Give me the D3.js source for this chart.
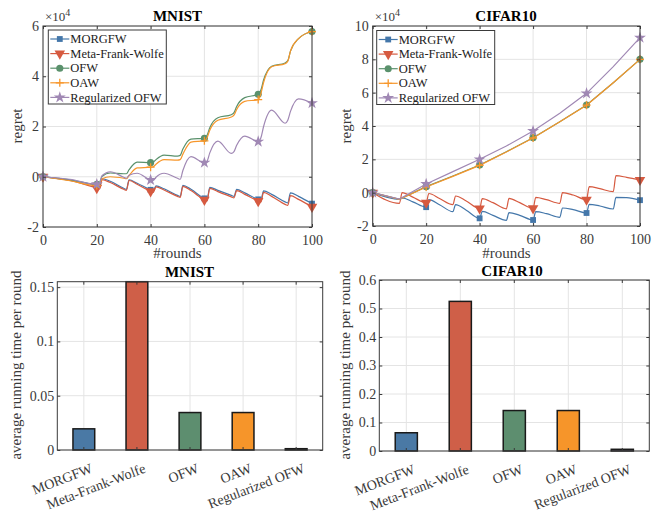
<!DOCTYPE html>
<html lang="en">
<head>
<meta charset="UTF-8">
<title>Regret and running time</title>
<script src="https://d3js.org/d3.v7.min.js"></script>
<style>
  body { margin: 0; background: #fff; }
  svg, svg text, .tick text { font-family: "Liberation Serif", "Times New Roman", serif; }
  .domain { display: none; }
</style>
</head>
<body>
<div id="chart"></div>
<script>
// ---- data (regret values are in units of 1e4) ----
const algorithms = ["MORGFW", "Meta-Frank-Wolfe", "OFW", "OAW", "Regularized OFW"];

// MNIST regret, sampled at these rounds
const mnistRounds = [0, 10, 20, 21, 22, 25, 30, 31, 32, 35, 40, 41, 42, 45, 50, 51, 52, 55, 60, 61, 62, 65, 70, 71, 72, 75, 80, 81, 82, 85, 90, 91, 92, 95, 100];
const mnistMORGFW = [0, -0.12, -0.35, -0.38, -0.08, -0.18, -0.46, -0.5, -0.12, -0.26, -0.52, -0.56, -0.36, -0.48, -0.74, -0.78, -0.34, -0.5, -0.86, -0.9, -0.42, -0.54, -0.74, -0.78, -0.5, -0.64, -0.9, -0.93, -0.56, -0.7, -1.0, -1.04, -0.64, -0.78, -1.07];
const mnistMetaFW = [0, -0.15, -0.45, -0.48, -0.12, -0.23, -0.5, -0.54, -0.15, -0.3, -0.58, -0.62, -0.4, -0.53, -0.78, -0.82, -0.38, -0.55, -0.92, -0.96, -0.46, -0.59, -0.8, -0.84, -0.55, -0.7, -0.97, -1.01, -0.62, -0.78, -1.1, -1.14, -0.75, -0.9, -1.2];
const mnistOFW = [0, -0.14, -0.3, -0.24, 0.02, 0.15, 0.12, 0.12, 0.28, 0.58, 0.56, 0.58, 0.68, 0.86, 0.82, 0.85, 1.1, 1.5, 1.53, 1.65, 1.95, 2.35, 2.47, 2.55, 2.8, 3.15, 3.28, 3.45, 3.85, 4.4, 4.53, 4.62, 5.0, 5.5, 5.78];
const mnistOAW = [0, -0.16, -0.35, -0.3, -0.08, 0.0, -0.06, -0.08, 0.05, 0.35, 0.38, 0.4, 0.5, 0.68, 0.66, 0.68, 0.9, 1.38, 1.43, 1.55, 1.85, 2.25, 2.38, 2.45, 2.68, 3.0, 3.07, 3.3, 3.75, 4.38, 4.5, 4.6, 5.0, 5.5, 5.78];
const mnistRegOFW = [0, -0.1, -0.3, -0.25, 0.05, 0.2, -0.02, -0.06, 0.06, 0.14, -0.13, -0.15, -0.02, 0.14, -0.06, -0.1, 0.25, 0.8, 0.56, 0.62, 0.95, 1.42, 0.93, 1.0, 1.25, 1.62, 1.4, 1.55, 2.0, 2.65, 2.13, 2.25, 2.6, 3.1, 2.93];

// CIFAR10 regret
const cifarRounds = [0, 10, 11, 15, 20, 21, 25, 30, 31, 35, 40, 41, 45, 50, 51, 55, 60, 61, 65, 70, 71, 75, 80, 81, 85, 90, 91, 95, 100];
const cifarMORGFW = [0, -0.4, -0.32, -0.55, -0.87, -0.42, -0.72, -1.14, -0.72, -1.05, -1.54, -1.12, -1.36, -1.66, -1.2, -1.36, -1.64, -1.14, -1.26, -1.48, -0.92, -1.02, -1.22, -0.7, -0.8, -0.98, -0.28, -0.3, -0.45];
const cifarMetaFW = [0, -0.64, 0.0, -0.27, -0.6, -0.05, -0.35, -0.72, -0.2, -0.5, -0.95, -0.36, -0.6, -0.97, -0.34, -0.6, -0.94, -0.28, -0.42, -0.64, 0.0, -0.14, -0.42, 0.36, 0.24, 0.06, 1.02, 0.92, 0.76];
const cifarTrendRounds = [0, 10, 20, 30, 40, 50, 60, 70, 80, 90, 100];
const cifarOFW = [0, -0.4, 0.36, 1.0, 1.66, 2.46, 3.3, 4.26, 5.26, 6.6, 8.0];
const cifarOAW = [0, -0.4, 0.34, 0.98, 1.64, 2.44, 3.28, 4.25, 5.25, 6.6, 8.0];
const cifarRegOFW = [0, -0.38, 0.52, 1.26, 2.0, 2.8, 3.7, 4.76, 5.96, 7.56, 9.3];

// average running time per round
const mnistTime = [0.0195, 0.155, 0.0345, 0.0345, 0.0012];
const cifarTime = [0.064, 0.525, 0.142, 0.142, 0.006];

const roundTicks = [0, 20, 40, 60, 80, 100];
const mnistRegretTicks = [-2, 0, 2, 4, 6];
const cifarRegretTicks = [-2, 0, 2, 4, 6, 8, 10];
const mnistTimeTicks = [0, 0.05, 0.1, 0.15];
const cifarTimeTicks = [0, 0.1, 0.2, 0.3, 0.4, 0.5, 0.6];

// ---- styling ----
const lineColors = ["#4477aa", "#d65a40", "#5a916c", "#f7962a", "#a088b4"];
const barColors = ["#4a79a5", "#cf5f48", "#5d8e6f", "#f6952a", "#9a86ad"];
const axisColor = "#3a3a3a";
const gridColor = "#e4e4e4";

const width = 667, height = 521;
const svg = d3.select("#chart").append("svg")
    .attr("width", width)
    .attr("height", height);
svg.append("rect").attr("width", width).attr("height", height).attr("fill", "#fff");

// marker for series i, centred at 0,0
function drawMarker(sel, i) {
    const c = lineColors[i];
    if (i === 3) {
        sel.append("path").attr("d", "M-4,0H4M0,-4V4")
            .attr("stroke", c).attr("stroke-width", 1.3).attr("fill", "none");
    } else if (i === 1) {
        sel.append("path").attr("d", d3.symbol(d3.symbolTriangle, 48)())
            .attr("transform", "rotate(180)").attr("fill", c);
    } else {
        const type = [d3.symbolSquare, null, d3.symbolCircle, null, d3.symbolStar][i];
        const size = [34, 0, 40, 0, 44][i];
        sel.append("path").attr("d", d3.symbol(type, size)()).attr("fill", c);
    }
}

function styleAxis(g) {
    g.attr("font-family", null);
    g.selectAll(".tick line").attr("stroke", axisColor);
    g.selectAll(".tick text").attr("fill", axisColor).attr("font-size", 14);
}

function axes(g, x, y, p, xTicks, yTicks, yFormat) {
    const bx = g.append("g").attr("transform", `translate(0,${p.bottom})`)
        .call(d3.axisBottom(x).tickValues(xTicks).tickSizeInner(-3).tickSizeOuter(0).tickPadding(8));
    styleAxis(bx);
    const tx = g.append("g").attr("transform", `translate(0,${p.top})`)
        .call(d3.axisTop(x).tickValues(xTicks).tickSizeInner(-3).tickSizeOuter(0).tickFormat(""));
    styleAxis(tx);
    const ly = g.append("g").attr("transform", `translate(${p.left},0)`)
        .call(d3.axisLeft(y).tickValues(yTicks).tickSizeInner(-3).tickSizeOuter(0).tickPadding(p.yPad || 4).tickFormat(yFormat));
    styleAxis(ly);
    const ry = g.append("g").attr("transform", `translate(${p.right},0)`)
        .call(d3.axisRight(y).tickValues(yTicks).tickSizeInner(-3).tickSizeOuter(0).tickFormat(""));
    styleAxis(ry);
    g.append("rect")
        .attr("x", p.left).attr("y", p.top)
        .attr("width", p.right - p.left).attr("height", p.bottom - p.top)
        .attr("fill", "none").attr("stroke", axisColor).attr("stroke-width", 1);
    return bx;
}

function titleAndLabels(g, p, titleY, yLabel) {
    g.append("text").attr("x", p.titleX).attr("y", titleY)
        .attr("text-anchor", "middle").attr("font-weight", "bold").attr("font-size", 15)
        .attr("fill", "#000").text(p.title);
    g.append("text")
        .attr("transform", `translate(${p.yLabelX},${p.labelCy}) rotate(-90)`)
        .attr("text-anchor", "middle").attr("font-size", 15).attr("fill", axisColor)
        .text(yLabel);
}

function linePanel(p) {
    const g = svg.append("g");
    const x = d3.scaleLinear().domain([0, 100]).range([p.left, p.right]);
    const y = d3.scaleLinear().domain(p.yDomain).range([p.bottom, p.top]);

    // grid
    g.append("g").selectAll("line").data(roundTicks).join("line")
        .attr("x1", d => x(d)).attr("x2", d => x(d))
        .attr("y1", p.top).attr("y2", p.bottom).attr("stroke", gridColor);
    g.append("g").selectAll("line").data(p.yTicks).join("line")
        .attr("x1", p.left).attr("x2", p.right)
        .attr("y1", d => y(d)).attr("y2", d => y(d)).attr("stroke", gridColor);

    const plot = g.append("g");
    p.series.forEach((s, i) => {
        const pts = s.rounds.map((r, j) => [r, s.values[j]]);
        const line = d3.line().x(d => x(d[0])).y(d => y(d[1])).curve(s.curve);
        plot.append("path").datum(pts).attr("d", line)
            .attr("fill", "none").attr("stroke", lineColors[i]).attr("stroke-width", 1.2);
        pts.filter(d => d[0] % 20 === 0).forEach(d => {
            const m = plot.append("g").attr("transform", `translate(${x(d[0])},${y(d[1])})`);
            drawMarker(m, i);
        });
    });

    axes(g, x, y, p, roundTicks, p.yTicks, d => String(d));

    // exponent label
    const ex = g.append("text").attr("x", p.left + 2).attr("y", 21)
        .attr("fill", axisColor).attr("font-size", 13);
    ex.append("tspan").text("\u00d710");
    ex.append("tspan").attr("dy", -5).attr("font-size", 10).text("4");

    titleAndLabels(g, p, 21, "regret");
    g.append("text").attr("x", (p.left + p.right) / 2).attr("y", 258)
        .attr("text-anchor", "middle").attr("font-size", 15).attr("fill", axisColor)
        .text("#rounds");

    // legend
    const lg = g.append("g").attr("transform", `translate(${p.legendX},${p.legendY})`);
    lg.append("rect").attr("width", 118).attr("height", 74)
        .attr("fill", "#fff").attr("stroke", axisColor).attr("stroke-width", 1);
    algorithms.forEach((name, i) => {
        const yy = 9 + i * 14.6;
        lg.append("line").attr("x1", 2).attr("x2", 21).attr("y1", yy).attr("y2", yy)
            .attr("stroke", lineColors[i]).attr("stroke-width", 1.2);
        drawMarker(lg.append("g").attr("transform", `translate(11.5,${yy})`), i);
        lg.append("text").attr("x", 22).attr("y", yy).attr("dy", "0.33em")
            .attr("font-size", 12.5).attr("fill", "#222").text(name);
    });
}

function barPanel(p) {
    const g = svg.append("g");
    const x = d3.scaleBand().domain(algorithms).range([p.left, p.right])
        .paddingInner(0.59).paddingOuter(0.295);
    const y = d3.scaleLinear().domain(p.yDomain).range([p.bottom, p.top]);
    const centre = d => x(d) + x.bandwidth() / 2;

    g.append("g").selectAll("line").data(algorithms).join("line")
        .attr("x1", centre).attr("x2", centre)
        .attr("y1", p.top).attr("y2", p.bottom).attr("stroke", gridColor);
    g.append("g").selectAll("line").data(p.yTicks).join("line")
        .attr("x1", p.left).attr("x2", p.right)
        .attr("y1", d => y(d)).attr("y2", d => y(d)).attr("stroke", gridColor);

    g.append("g").selectAll("rect").data(p.values).join("rect")
        .attr("x", (d, i) => x(algorithms[i]))
        .attr("y", d => y(d))
        .attr("width", x.bandwidth())
        .attr("height", d => y(0) - y(d))
        .attr("fill", (d, i) => barColors[i])
        .attr("stroke", "#1a1a1a").attr("stroke-width", 1.5);

    const fmt = d => String(+d.toFixed(2));
    const bx = axes(g, x, y, p, algorithms, p.yTicks, fmt);
    // slanted category labels
    bx.selectAll(".tick text")
        .attr("text-anchor", "end")
        .attr("x", 1).attr("y", 24).attr("dy", 0)
        .attr("transform", "rotate(-21)");

    titleAndLabels(g, p, p.titleY, "average running time per round");
}

linePanel({
    left: 43, right: 312, top: 26, bottom: 227,
    yDomain: [-2, 6], yTicks: mnistRegretTicks,
    title: "MNIST", titleX: 177.5, labelCy: 126, yLabelX: 22,
    legendX: 48.3, legendY: 30,
    series: [
        { rounds: mnistRounds, values: mnistMORGFW, curve: d3.curveMonotoneX },
        { rounds: mnistRounds, values: mnistMetaFW, curve: d3.curveMonotoneX },
        { rounds: mnistRounds, values: mnistOFW, curve: d3.curveMonotoneX },
        { rounds: mnistRounds, values: mnistOAW, curve: d3.curveMonotoneX },
        { rounds: mnistRounds, values: mnistRegOFW, curve: d3.curveMonotoneX }
    ]
});

linePanel({
    left: 372.7, right: 640, top: 26, bottom: 226,
    yDomain: [-2, 10], yTicks: cifarRegretTicks,
    title: "CIFAR10", titleX: 506, labelCy: 126, yLabelX: 351,
    legendX: 376.7, legendY: 30.5,
    series: [
        { rounds: cifarRounds, values: cifarMORGFW, curve: d3.curveMonotoneX },
        { rounds: cifarRounds, values: cifarMetaFW, curve: d3.curveMonotoneX },
        { rounds: cifarTrendRounds, values: cifarOFW, curve: d3.curveLinear },
        { rounds: cifarTrendRounds, values: cifarOAW, curve: d3.curveLinear },
        { rounds: cifarTrendRounds, values: cifarRegOFW, curve: d3.curveLinear }
    ]
});

barPanel({
    left: 57.3, right: 322.7, top: 281.7, bottom: 450,
    yDomain: [0, 0.155], yTicks: mnistTimeTicks, values: mnistTime, yPad: 3,
    title: "MNIST", titleX: 189.5, titleY: 277, labelCy: 365, yLabelX: 21
});

barPanel({
    left: 379.3, right: 649.3, top: 280, bottom: 451,
    yDomain: [0, 0.6], yTicks: cifarTimeTicks, values: cifarTime, yPad: 3,
    title: "CIFAR10", titleX: 512, titleY: 276, labelCy: 365, yLabelX: 350
});
</script>
</body>
</html>
